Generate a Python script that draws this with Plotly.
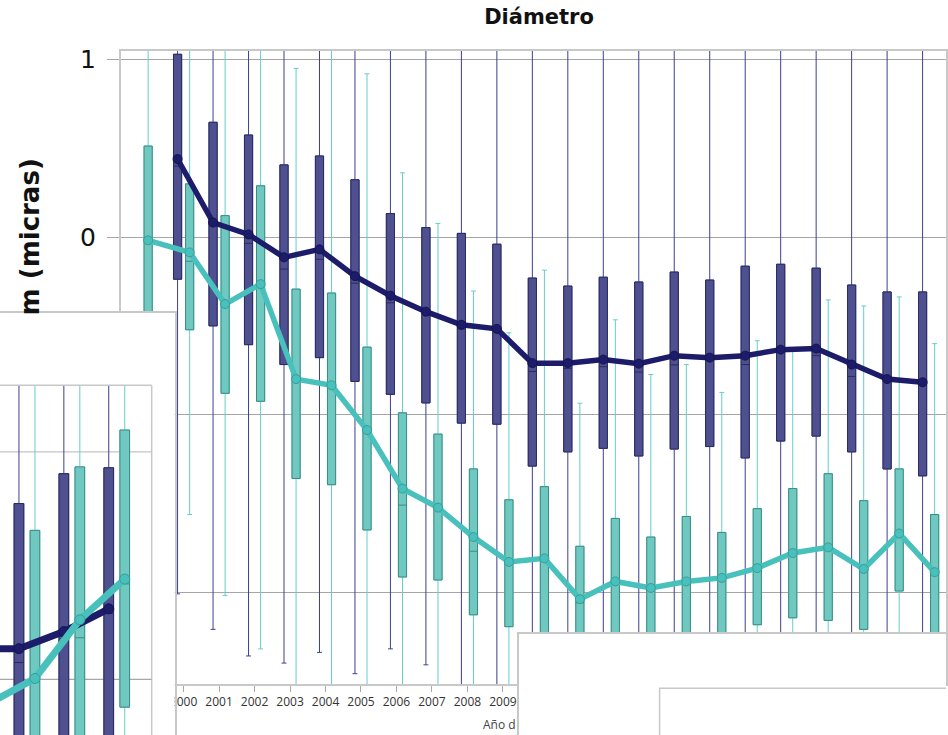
import plotly.graph_objects as go

W, H = 948, 735

# ---------------- main chart: Diámetro by year ----------------
years_dark = list(range(2000, 2022))
dark_q3 = [1.03, 0.647, 0.575, 0.407, 0.457, 0.323, 0.133, 0.054, 0.021, -0.04, -0.231,
           -0.276, -0.226, -0.253, -0.197, -0.242, -0.164, -0.153, -0.175, -0.27, -0.309, -0.309]
dark_q1 = [-0.237, -0.50, -0.606, -0.718, -0.679, -0.813, -0.886, -0.934, -1.048, -1.054, -1.29,
           -1.21, -1.19, -1.233, -1.194, -1.18, -1.244, -1.149, -1.121, -1.21, -1.306, -1.345]
dark_median = [0.40, 0.065, -0.035, -0.18, -0.125, -0.26, -0.37, -0.43, -0.517, -0.53, -0.757,
               -0.74, -0.73, -0.76, -0.72, -0.695, -0.718, -0.63, -0.668, -0.785, -0.81, -0.835]
dark_mean = [0.44, 0.082, 0.015, -0.114, -0.069, -0.22, -0.33, -0.42, -0.494, -0.517, -0.71,
             -0.71, -0.69, -0.713, -0.668, -0.679, -0.668, -0.634, -0.628, -0.718, -0.80, -0.818]
dark_low = [-2.01, -2.21, -2.36, -2.40, -2.34, -2.46, -2.32, -2.41, -2.62, -2.64, -2.60,
            -2.58, -2.55, -2.60, -2.57, -2.55, -2.60, -2.56, -2.58, -2.62, -2.65, -2.66]
dark_high = [1.45, 1.38, 1.36, 1.30, 1.33, 1.28, 1.25, 1.22, 1.20, 1.18, 1.15,
             1.12, 1.14, 1.13, 1.16, 1.12, 1.15, 1.17, 1.16, 1.12, 1.10, 1.10]

years_teal = list(range(1999, 2022))
teal_q3 = [0.513, 0.30, 0.121, 0.289, -0.293, -0.315, -0.62, -0.99, -1.11, -1.306, -1.48, -1.406,
           -1.742, -1.585, -1.69, -1.574, -1.664, -1.53, -1.417, -1.333, -1.485, -1.306, -1.563]
teal_q1 = [-0.55, -0.522, -0.88, -0.925, -1.36, -1.395, -1.65, -1.915, -1.932, -2.128, -2.195, -2.35,
           -2.30, -2.28, -2.30, -2.26, -2.30, -2.184, -2.145, -2.16, -2.21, -1.994, -2.28]
teal_median = [-0.02, -0.136, -0.36, -0.27, -0.81, -0.84, -1.09, -1.51, -1.53, -1.77, -1.84, -1.82,
               -2.06, -1.95, -1.99, -1.95, -1.93, -1.87, -1.79, -1.76, -1.88, -1.68, -1.90]
teal_mean = [-0.018, -0.086, -0.377, -0.265, -0.80, -0.835, -1.087, -1.417, -1.524, -1.69, -1.83, -1.81,
             -2.04, -1.94, -1.977, -1.94, -1.92, -1.865, -1.78, -1.748, -1.87, -1.67, -1.888]
teal_low = [-1.60, -1.563, -2.02, -2.32, -2.70, -2.70, -2.68, -2.66, -2.70, -2.72, -2.70, -2.60,
            -2.62, -2.60, -2.65, -2.60, -2.62, -2.58, -2.60, -2.62, -2.64, -2.50, -2.60]
teal_high = [1.30, 1.30, 1.25, 1.20, 0.95, 1.15, 0.92, 0.362, 0.077, -0.304, -0.539, -0.186,
             -0.936, -0.466, -0.774, -0.718, -0.875, -0.584, -0.64, -0.354, -0.388, -0.337, -0.60]

year_ticks = years_teal
y_ticks = [-2, -1, 0, 1]

# ---------------- small chart in the left window ----------------
mini_pos = [1, 2, 3]
mini_dark_q3 = [0.773, 0.904, 0.930]
mini_dark_q1 = [-0.42, -0.38, -0.33]
mini_dark_median = [0.074, 0.19, 0.29]
mini_dark_low = [-0.90, -0.85, -0.80]
mini_dark_high = [1.29, 1.29, 1.29]
mini_teal_q3 = [0.655, 0.934, 1.096]
mini_teal_q1 = [-0.40, -0.35, -0.122]
mini_teal_median = [-0.01, 0.183, 0.42]
mini_teal_low = [-0.80, -0.75, -0.50]
mini_teal_high = [1.29, 1.29, 1.29]
mini_line_pos = [0, 1, 2, 3]
mini_dark_mean = [0.135, 0.135, 0.21, 0.31]
mini_teal_mean = [-0.103, 0.004, 0.262, 0.441]

# ---------------- styling ----------------
DARK_FILL, DARK_EDGE, DARK_WHISK, DARK_LINE = "#4e5090", "#2a2b60", "#3e3f8e", "#1c1c6a"
TEAL_FILL, TEAL_EDGE, TEAL_WHISK, TEAL_LINE = "#6fc9c1", "#3d8a84", "#62cfc8", "#48c1bc"
GRID = "#a6a6a6"
FRAME = "#c8c8c8"
OFFSET = 0.17      # side-by-side shift of the two series within a year
BOX_W = 0.23
MINI_OFFSET = 0.178
MINI_BOX_W = 0.215

fig = go.Figure()


def add_boxes(xs, q1, med, q3, lo, hi, fill, edge, whisk, width, capw, xa="x", ya="y"):
    # whiskers + body in the whisker colour
    fig.add_trace(go.Box(x=xs, q1=q1, median=med, q3=q3, lowerfence=lo, upperfence=hi,
                         width=width, whiskerwidth=capw, fillcolor=fill,
                         line=dict(color=whisk, width=1), boxpoints=False,
                         hoverinfo="skip", showlegend=False, xaxis=xa, yaxis=ya))
    # body again with a darker outline and median tick
    fig.add_trace(go.Box(x=xs, q1=q1, median=med, q3=q3, lowerfence=q1, upperfence=q3,
                         width=width, whiskerwidth=0, fillcolor=fill,
                         line=dict(color=edge, width=1), boxpoints=False,
                         hoverinfo="skip", showlegend=False, xaxis=xa, yaxis=ya))


def add_mean_line(xs, ys, color, edge, lw, ms, xa="x", ya="y"):
    fig.add_trace(go.Scatter(x=xs, y=ys, mode="lines+markers",
                             line=dict(color=color, width=lw),
                             marker=dict(size=ms, color=color, line=dict(color=edge, width=1)),
                             hoverinfo="skip", showlegend=False, xaxis=xa, yaxis=ya))


# main chart positions: both series share a year slot; a lone series sits centred
dark_x = [y - OFFSET for y in years_dark]
teal_x = [y + OFFSET if y in years_dark else y for y in years_teal]

add_boxes(dark_x, dark_q1, dark_median, dark_q3, dark_low, dark_high,
          DARK_FILL, DARK_EDGE, DARK_WHISK, BOX_W, 0.6)
add_boxes(teal_x, teal_q1, teal_median, teal_q3, teal_low, teal_high,
          TEAL_FILL, TEAL_EDGE, TEAL_WHISK, BOX_W, 0.6)
add_mean_line(dark_x, dark_mean, DARK_LINE, "#15154f", 5.5, 9)
add_mean_line(teal_x, teal_mean, TEAL_LINE, "#3a9c97", 5.5, 9)

# small chart in the left window
mini_dark_x = [p - MINI_OFFSET for p in mini_pos]
mini_teal_x = [p + MINI_OFFSET for p in mini_pos]
add_boxes(mini_dark_x, mini_dark_q1, mini_dark_median, mini_dark_q3, mini_dark_low, mini_dark_high,
          DARK_FILL, DARK_EDGE, DARK_WHISK, MINI_BOX_W, 0, "x2", "y2")
add_boxes(mini_teal_x, mini_teal_q1, mini_teal_median, mini_teal_q3, mini_teal_low, mini_teal_high,
          TEAL_FILL, TEAL_EDGE, TEAL_WHISK, MINI_BOX_W, 0, "x2", "y2")
add_mean_line([p - MINI_OFFSET for p in mini_line_pos], mini_dark_mean, DARK_LINE, "#15154f", 7, 10, "x2", "y2")
add_mean_line([p + MINI_OFFSET for p in mini_line_pos], mini_teal_mean, TEAL_LINE, "#3a9c97", 7, 10, "x2", "y2")

# empty window at the lower right
fig.add_trace(go.Scatter(x=[0.5], y=[0.5], mode="markers", marker=dict(opacity=0),
                         hoverinfo="skip", showlegend=False, xaxis="x3", yaxis="y3"))

# frames of the small chart and of the inner lower-right window
MINI_TOP, MINI_RIGHT = 1.2926, 3.778
shapes = [
    dict(type="line", xref="x2", yref="y2", x0=0.3, x1=MINI_RIGHT, y0=MINI_TOP, y1=MINI_TOP,
         line=dict(color=FRAME, width=1.5), layer="between"),
    dict(type="line", xref="x2", yref="y2", x0=MINI_RIGHT, x1=MINI_RIGHT, y0=-0.5, y1=MINI_TOP,
         line=dict(color=FRAME, width=1.5), layer="between"),
    dict(type="line", xref="x2", yref="y2", x0=0.3, x1=MINI_RIGHT, y0=1, y1=1,
         line=dict(color="#c4c4c4", width=1.2), layer="between"),
    dict(type="line", xref="x2", yref="y2", x0=0.3, x1=MINI_RIGHT, y0=0, y1=0,
         line=dict(color=GRID, width=1.2), layer="between"),
    dict(type="rect", xref="x3", yref="y3", x0=141 / 428, x1=1.1, y0=-0.2, y1=47 / 102,
         line=dict(color=FRAME, width=1.5), fillcolor="rgba(0,0,0,0)", layer="between"),
]

hidden_axis = dict(showgrid=False, zeroline=False, showticklabels=False, ticks="",
                   showline=True, linecolor=FRAME, linewidth=1.5, fixedrange=True)

fig.update_layout(
    width=W, height=H, autosize=False,
    margin=dict(l=0, r=0, t=0, b=0),
    paper_bgcolor="#ffffff", plot_bgcolor="#ffffff",
    boxmode="overlay", showlegend=False,
    title=dict(text="<b>Diámetro</b>", x=539 / W, xanchor="center", y=1 - 17 / H,
               yanchor="middle", yref="container",
               font=dict(family="DejaVu Sans", size=21, color="#111111")),
    xaxis=dict(domain=[121 / W, 1], range=[1998.228, 2021.49],
               tickvals=year_ticks, ticktext=[str(y) for y in year_ticks],
               ticks="outside", ticklen=6, tickcolor="#aaaaaa",
               showgrid=False, zeroline=False, showline=True, mirror=True,
               linecolor=FRAME, linewidth=1.5,
               tickfont=dict(family="Open Sans", size=12, color="#333333")),
    yaxis=dict(domain=[1 - 684 / H, 1 - 46 / H], range=[-2.5199, 1.0504],
               tickvals=y_ticks, ticks="outside", ticklen=12, tickcolor=GRID,
               showgrid=True, gridcolor=GRID, gridwidth=1, zeroline=False,
               showline=True, mirror=True, linecolor=FRAME, linewidth=1.5,
               ticklabelstandoff=6,
               tickfont=dict(family="DejaVu Sans", size=25, color="#111111")),
    xaxis2=dict(domain=[0, 175 / W], range=[0.4, 4.289], anchor="y2", side="top", **hidden_axis),
    yaxis2=dict(domain=[0, 1 - 310 / H], range=[-0.2445, 1.611], anchor="x2", side="right", **hidden_axis),
    xaxis3=dict(domain=[520 / W, 1], range=[0, 1], anchor="y3", side="top", **hidden_axis),
    yaxis3=dict(domain=[0, 1 - 633 / H], range=[0, 1], anchor="x3", side="left", **hidden_axis),
    shapes=shapes,
    annotations=[
        dict(text="<b>m (micras)</b>", textangle=-90, xref="paper", yref="paper",
             x=31 / W, y=1 - 152 / H, xanchor="center", yanchor="top", showarrow=False,
             font=dict(family="DejaVu Sans", size=26, color="#111111")),
        dict(text="Año d", xref="paper", yref="paper", x=519 / W, y=1 - 724 / H,
             xanchor="right", yanchor="middle", showarrow=False,
             font=dict(family="Open Sans", size=12, color="#444444")),
    ],
)

fig.write_html("out.html")
